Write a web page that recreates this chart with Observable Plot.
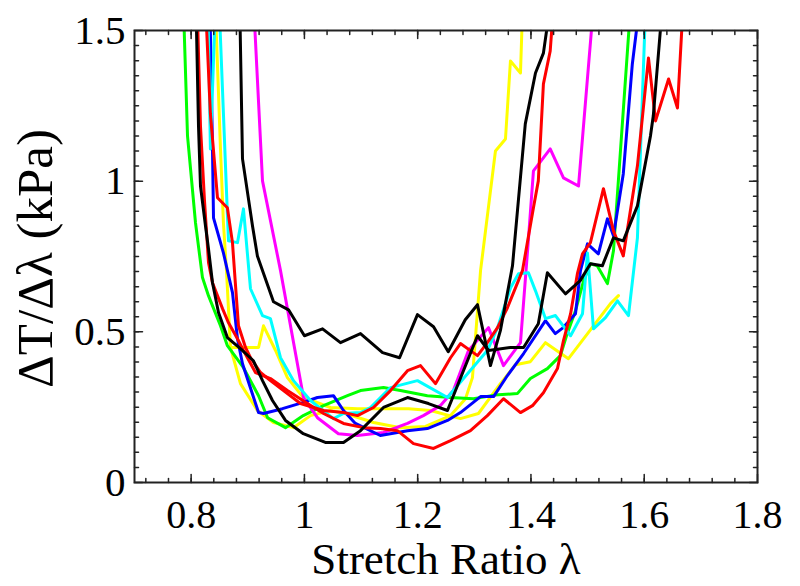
<!DOCTYPE html>
<html>
<head>
<meta charset="utf-8">
<script src="https://cdn.jsdelivr.net/npm/d3@7"></script>
<script src="https://cdn.jsdelivr.net/npm/@observablehq/plot@0.6"></script>
<style>
  html, body { margin: 0; padding: 0; background: #fff; }
  svg text { font-family: "Liberation Serif", "Times New Roman", serif; }
</style>
</head>
<body>
<div id="chart"></div>
<script>
// ---- data: [stretch ratio λ, ΔT/Δλ (kPa)] ----
const green = [[0.785,1.664],[0.7936,1.150],[0.8077,0.862],[0.820,0.680],[0.8306,0.620],[0.8518,0.520],[0.864,0.454],[0.8924,0.381],[0.919,0.288],[0.935,0.215],[0.9666,0.182],[0.998,0.222],[1.0337,0.255],[1.076,0.288],[1.099,0.305],[1.1396,0.315],[1.1696,0.305],[1.217,0.288],[1.258,0.282],[1.2985,0.278],[1.336,0.290],[1.376,0.295],[1.399,0.345],[1.429,0.378],[1.452,0.421],[1.464,0.494],[1.4786,0.570],[1.493,0.670],[1.505,0.726],[1.517,0.719],[1.535,0.660],[1.5457,0.769],[1.558,1.100],[1.579,1.664]];
const blackB = [[0.8077,1.664],[0.813,1.183],[0.8165,0.984],[0.8253,0.852],[0.8306,0.776],[0.8377,0.663],[0.8483,0.564],[0.864,0.481],[0.887,0.444],[0.910,0.404],[0.926,0.338],[0.9436,0.272],[0.9666,0.206],[0.998,0.162],[1.037,0.133],[1.069,0.133],[1.099,0.172],[1.1396,0.249],[1.182,0.282],[1.219,0.262],[1.2526,0.239],[1.3056,0.487],[1.325,0.438],[1.364,0.448],[1.387,0.448],[1.413,0.527],[1.429,0.696],[1.461,0.626],[1.487,0.670],[1.505,0.726],[1.526,0.719],[1.5457,0.812],[1.563,0.802],[1.588,0.918],[1.611,1.150],[1.616,1.217],[1.6357,1.664]];
const blackA = [[0.885,1.664],[0.8907,1.074],[0.9083,0.852],[0.917,0.752],[0.9454,0.600],[0.972,0.573],[1.000,0.487],[1.032,0.510],[1.0637,0.464],[1.099,0.494],[1.138,0.431],[1.168,0.414],[1.1996,0.557],[1.228,0.517],[1.254,0.434],[1.284,0.540],[1.3056,0.590],[1.3285,0.388],[1.346,0.504],[1.3674,0.719],[1.390,1.190],[1.408,1.359],[1.422,1.425],[1.44,1.664]];
const magenta = [[0.9083,1.664],[0.926,1.001],[0.9578,0.703],[0.9984,0.282],[1.023,0.215],[1.060,0.162],[1.0937,0.156],[1.1396,0.166],[1.182,0.196],[1.210,0.222],[1.240,0.255],[1.263,0.305],[1.2897,0.438],[1.325,0.514],[1.3515,0.388],[1.3815,0.464],[1.394,0.769],[1.4044,1.034],[1.434,1.107],[1.4574,1.011],[1.484,0.984],[1.514,1.664]];
const cyan = [[0.8289,1.664],[0.834,1.107],[0.846,1.75],[0.864,0.892],[0.866,0.802],[0.8818,0.796],[0.8924,0.908],[0.9048,0.643],[0.926,0.554],[0.940,0.544],[0.9578,0.414],[0.9807,0.338],[1.0107,0.272],[1.0513,0.212],[1.069,0.229],[1.099,0.232],[1.1167,0.249],[1.152,0.315],[1.1996,0.338],[1.2526,0.282],[1.288,0.361],[1.323,0.438],[1.341,0.514],[1.364,0.646],[1.378,0.693],[1.3956,0.696],[1.408,0.636],[1.4256,0.544],[1.4433,0.554],[1.470,0.487],[1.491,0.560],[1.4998,0.762],[1.5104,0.510],[1.5316,0.547],[1.5528,0.603],[1.5722,0.554],[1.588,0.812],[1.604,1.664]];
const blue = [[0.8324,1.664],[0.8377,1.107],[0.8395,0.878],[0.857,0.762],[0.873,0.630],[0.8818,0.477],[0.8907,0.394],[0.919,0.232],[0.9278,0.229],[0.9613,0.245],[0.9966,0.265],[1.023,0.282],[1.0513,0.288],[1.069,0.239],[1.090,0.196],[1.134,0.156],[1.182,0.172],[1.217,0.179],[1.2526,0.206],[1.2755,0.232],[1.311,0.285],[1.334,0.285],[1.3585,0.355],[1.387,0.428],[1.4044,0.477],[1.4256,0.537],[1.443,0.494],[1.457,0.514],[1.4786,0.560],[1.4874,0.703],[1.4998,0.792],[1.519,0.759],[1.535,0.875],[1.5457,0.819],[1.563,1.024],[1.579,1.389],[1.597,1.664]];
const redLow = [[0.8095,1.664],[0.8165,1.183],[0.8236,0.935],[0.8307,0.729],[0.8377,0.663],[0.8554,0.577],[0.866,0.530],[0.8818,0.477],[0.8924,0.438],[0.9136,0.365],[0.940,0.345],[0.970,0.305],[1.0054,0.262],[1.0337,0.229],[1.069,0.196],[1.1043,0.182],[1.1343,0.179],[1.1643,0.172],[1.1926,0.129],[1.228,0.113],[1.258,0.139],[1.2932,0.172],[1.323,0.222],[1.3515,0.278],[1.3815,0.232],[1.4027,0.255],[1.422,0.298],[1.4468,0.378],[1.4574,0.471],[1.470,0.560],[1.482,0.693],[1.491,0.759],[1.505,0.796],[1.528,0.975],[1.5457,0.835],[1.563,0.752],[1.588,1.051],[1.6075,1.409],[1.620,1.200],[1.643,1.339],[1.6587,1.243],[1.671,1.664]];
const redHigh = [[0.8236,1.664],[0.834,1.223],[0.8465,0.945],[0.864,0.912],[0.873,0.796],[0.878,0.663],[0.8836,0.520],[0.896,0.448],[0.9048,0.414],[0.9225,0.365],[0.940,0.338],[0.970,0.295],[0.993,0.262],[1.0337,0.239],[1.069,0.232],[1.0937,0.222],[1.122,0.249],[1.152,0.305],[1.182,0.371],[1.205,0.388],[1.2314,0.328],[1.258,0.414],[1.2755,0.461],[1.3056,0.421],[1.323,0.464],[1.341,0.514],[1.3585,0.580],[1.385,0.703],[1.4044,0.912],[1.413,1.001],[1.422,1.323],[1.434,1.432],[1.443,1.664]];
const yellowA = [[0.8412,1.664],[0.8518,1.107],[0.857,0.862],[0.8624,0.703],[0.8695,0.448],[0.8871,0.328],[0.917,0.239],[0.9454,0.199],[0.9807,0.182],[1.0107,0.222],[1.046,0.239],[1.0725,0.229],[1.122,0.199],[1.1696,0.182],[1.2138,0.186],[1.258,0.222],[1.2844,0.278],[1.2967,0.348],[1.311,0.703],[1.3373,1.100],[1.355,1.140],[1.3638,1.399],[1.3815,1.359],[1.3868,1.664]];
const yellowB = [[0.8695,0.448],[0.919,0.448],[0.9278,0.520],[0.949,0.438],[0.970,0.348],[0.998,0.282],[1.046,0.249],[1.0937,0.245],[1.152,0.245],[1.1838,0.245],[1.2226,0.239],[1.2755,0.212],[1.3073,0.229],[1.346,0.328],[1.3727,0.391],[1.399,0.401],[1.4256,0.464],[1.4662,0.411],[1.5104,0.520],[1.540,0.593],[1.5545,0.620]];

const series = [
  {data: yellowA, color: "#ffff00"},
  {data: yellowB, color: "#ffff00"},
  {data: green, color: "#00ff00"},
  {data: magenta, color: "#ff00ff"},
  {data: blue, color: "#0000ff"},
  {data: cyan, color: "#00ffff"},
  {data: redLow, color: "#ff0000"},
  {data: redHigh, color: "#ff0000"},
  {data: blackB, color: "#000000"},
  {data: blackA, color: "#000000"}
];

// ---- axes ----
const xDomain = [0.7, 1.8];
const yDomain = [0, 1.5];
const xMajor = [0.8, 1.0, 1.2, 1.4, 1.6, 1.8];
const xMinor = d3.range(0.72, 1.79, 0.04);
const yMajor = [0, 0.5, 1.0, 1.5];
const yMinor = d3.range(0.05, 1.49, 0.05);
const xLabel = "Stretch Ratio λ";
const yLabel = "ΔT/Δλ (kPa)";

const font = "Liberation Serif";
const tickShape = {draw(context, l) { context.moveTo(0, 0); context.lineTo(0, -l); }};

function ticks(values, dim, anchor, len) {
  const rot = {bottom: 0, top: 180, left: 90, right: -90}[anchor];
  const opts = {frameAnchor: anchor, length: len, rotate: rot, anchor: "start", shape: tickShape, stroke: "#222", strokeWidth: 1.5};
  opts[dim] = d => d;
  return Plot.vector(values, opts);
}

const plot = Plot.plot({
  width: 800,
  height: 586,
  marginLeft: 134,
  marginRight: 43,
  marginTop: 30,
  marginBottom: 104,
  style: {fontFamily: font, background: "#fff"},
  x: {domain: xDomain},
  y: {domain: yDomain},
  marks: [
    ...series.map(s => Plot.line(s.data, {x: d => d[0], y: d => d[1], stroke: s.color, strokeWidth: 3, clip: true, strokeLinejoin: "round"})),
    ticks(xMajor, "x", "bottom", 8), ticks(xMinor, "x", "bottom", 4),
    ticks(xMajor, "x", "top", 8), ticks(xMinor, "x", "top", 4),
    ticks(yMajor, "y", "left", 8), ticks(yMinor, "y", "left", 4),
    ticks(yMajor, "y", "right", 8), ticks(yMinor, "y", "right", 4),
    Plot.frame({stroke: "#222", strokeWidth: 2}),
    Plot.axisX({ticks: xMajor, tickSize: 0, tickPadding: 17, tickFormat: d => String(d), fontSize: 40, fontFamily: font, fill: "#000", label: null}),
    Plot.axisY({ticks: yMajor, tickSize: 0, tickPadding: 9, tickFormat: d => String(d), fontSize: 41, fontFamily: font, fill: "#000", label: null}),
    Plot.text([xLabel], {frameAnchor: "bottom", text: d => d, dy: 91, fontSize: 45, fontFamily: font, fill: "#000"}),
    Plot.text([yLabel], {frameAnchor: "left", text: d => d, dx: -99, dy: 2, rotate: -90, textAnchor: "middle", fontSize: 51, fontFamily: font, fill: "#000"})
  ]
});
document.getElementById("chart").appendChild(plot);
</script>
</body>
</html>
